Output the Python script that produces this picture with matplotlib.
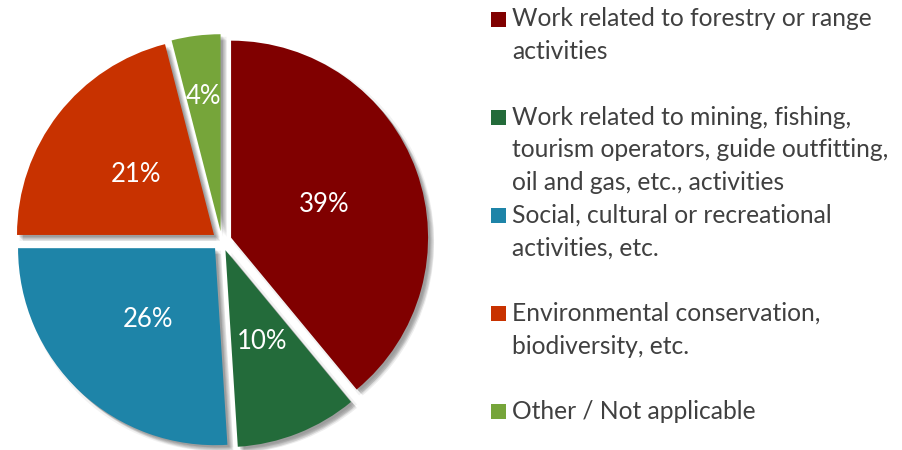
import matplotlib
matplotlib.use("Agg")
import matplotlib.pyplot as plt
import matplotlib.patheffects as pe
from matplotlib.patches import Rectangle
import numpy as np

plt.rcParams["font.family"] = ["Lato", "DejaVu Sans"]

# --- Data ---
categories = [
    "Work related to forestry or range\nactivities",
    "Work related to mining, fishing,\ntourism operators, guide outfitting,\noil and gas, etc., activities",
    "Social, cultural or recreational\nactivities, etc.",
    "Environmental conservation,\nbiodiversity, etc.",
    "Other / Not applicable",
]
shares = [39, 10, 26, 21, 4]
colors = ["#800000", "#236B3A", "#1E84A8", "#C83200", "#76A53A"]
label_dist = [0.5, 0.5, 0.5, 0.5, 0.69]

W, H, DPI = 902, 450, 100
fig = plt.figure(figsize=(W / DPI, H / DPI), dpi=DPI)

# pie axes: left 450 px, 1 data unit = 197 px, centre at (221.8, 241 from top)
R_PX = 197.0
cx, cy = 221.8, H - 241.0
ax = fig.add_axes([0, 0, 450 / W, 1])

shadow = [pe.SimplePatchShadow(offset=(o, -o), shadow_rgbFace="black", alpha=0.07)
          for o in (1.5, 2.2, 2.9, 3.6, 4.3)]
shadow += [pe.SimplePatchShadow(offset=(a, -b), shadow_rgbFace="black", alpha=0.05)
           for a, b in ((4.3, 1.8), (1.8, 4.3))]

wedges, _ = ax.pie(shares, colors=colors, startangle=90, counterclock=False,
                   explode=[0.05] * len(shares), radius=1.0,
                   wedgeprops=dict(linewidth=0, path_effects=shadow + [pe.Normal()]))

for w, val, d in zip(wedges, shares, label_dist):
    mid = np.deg2rad((w.theta1 + w.theta2) / 2)
    x0, y0 = w.center
    ax.text(x0 + d * np.cos(mid), y0 + d * np.sin(mid), f"{val}%",
            ha="center", va="center", color="white", fontsize=18.5)

ax.set_xlim(-cx / R_PX, (450 - cx) / R_PX)
ax.set_ylim(-cy / R_PX, (H - cy) / R_PX)
ax.set_aspect("auto")
ax.axis("off")

# --- Legend (manual, fixed row pitch) ---
pitch = 32.7
for i, (lab, col) in enumerate(zip(categories, colors)):
    base = 26.5 + i * 3 * pitch  # baseline of first line, px from top
    fig.patches.append(Rectangle((491 / W, (H - base) / H), 15 / W, 15 / H,
                                 transform=fig.transFigure, facecolor=col,
                                 edgecolor="none"))
    for k, line in enumerate(lab.split("\n")):
        fig.text(512 / W, (H - base - k * pitch) / H, line, ha="left",
                 va="baseline", color="#404040", fontsize=17.7)

fig.savefig("out.png", dpi=DPI)
